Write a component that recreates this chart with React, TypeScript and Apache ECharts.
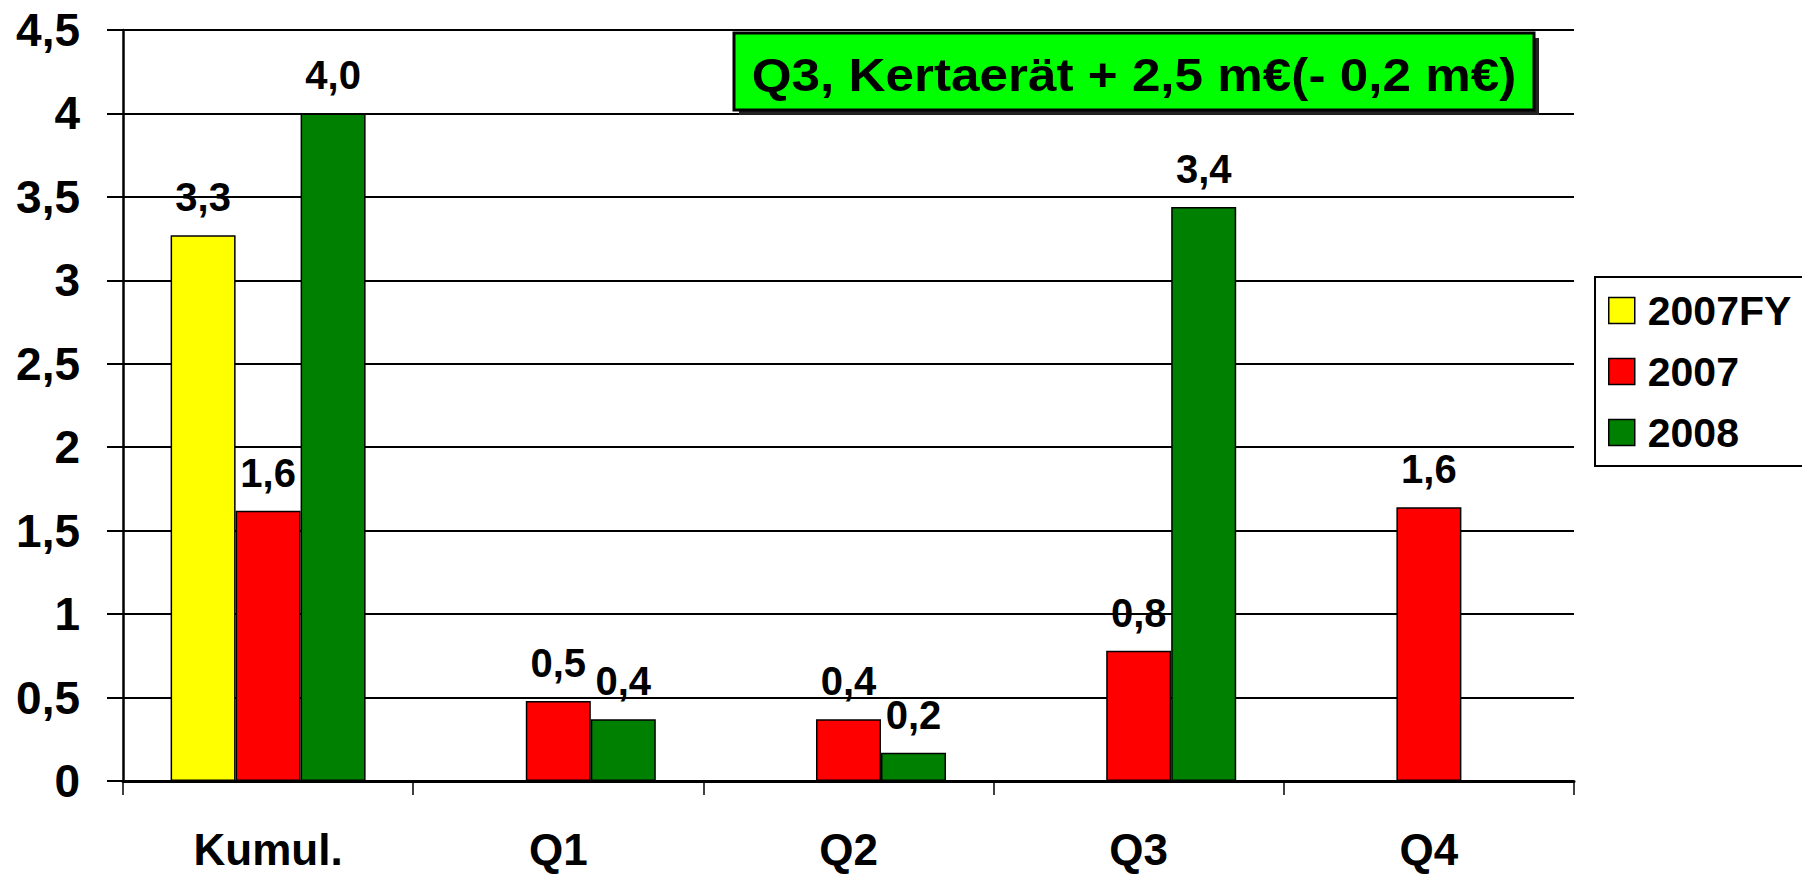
import React, { useEffect, useRef } from "react";
import * as echarts from "echarts";

const categories = ["Kumul.", "Q1", "Q2", "Q3", "Q4"];
const seriesNames = ["2007FY", "2007", "2008"];
const values2007FY: (number | null)[] = [3.27, null, null, null, null];
const values2007: (number | null)[] = [1.62, 0.48, 0.37, 0.78, 1.64];
const values2008: (number | null)[] = [4.0, 0.37, 0.17, 3.44, null];
const seriesColors = ["#FFFF00", "#FF0000", "#008000"];
const titleText = "Q3, Kertaerät + 2,5 m€(- 0,2 m€)";

const FONT = "'Liberation Sans', Arial, sans-serif";

export default function App() {
  const ref = useRef<HTMLDivElement>(null);
  useEffect(() => {
    if (!ref.current) return;
    const chart = echarts.init(ref.current, null, { renderer: "svg" });
    const data = [values2007FY, values2007, values2008];
    const fmt = (p: any) =>
      typeof p.value === "number" ? p.value.toFixed(1).replace(".", ",") : "";
    chart.setOption({
      animation: false,
      backgroundColor: "#ffffff",
      grid: { left: 123, right: 228, top: 30, bottom: 95, containLabel: false },
      legend: {
        orient: "vertical",
        left: 1595,
        top: 277,
        data: seriesNames,
        borderColor: "#000",
        borderWidth: 2,
        padding: [13, 40, 13, 13],
        itemWidth: 26,
        itemHeight: 26,
        itemGap: 20,
        icon: "rect",
        itemStyle: { borderColor: "#000", borderWidth: 1.5 },
        textStyle: {
          fontFamily: FONT,
          fontWeight: "bold",
          fontSize: 41,
          color: "#000",
          lineHeight: 40,
          padding: [0, 0, 0, 8],
        },
      },
      xAxis: {
        type: "category",
        data: categories,
        axisLine: { lineStyle: { color: "#000", width: 3 } },
        axisTick: { show: true, length: 14, lineStyle: { color: "#000", width: 1.5 } },
        axisLabel: {
          fontFamily: FONT,
          fontWeight: "bold",
          fontSize: 44,
          lineHeight: 40,
          color: "#000",
          margin: 48,
        },
      },
      yAxis: {
        type: "value",
        min: 0,
        max: 4.5,
        interval: 0.5,
        axisLine: { show: true, lineStyle: { color: "#000", width: 2.5 } },
        axisTick: { show: true, length: 16, lineStyle: { color: "#000", width: 2 } },
        splitLine: { show: true, lineStyle: { color: "#000", width: 2 } },
        axisLabel: {
          fontFamily: FONT,
          fontWeight: "bold",
          fontSize: 46,
          color: "#000",
          margin: 43,
          formatter: (v: number) => String(v).replace(".", ","),
        },
      },
      series: seriesNames.map((name, i) => ({
        name,
        type: "bar",
        data: data[i],
        barWidth: 65,
        barGap: "0%",
        itemStyle: { color: seriesColors[i], borderColor: "#000", borderWidth: 1.5 },
        label: {
          show: true,
          position: "top",
          distance: 18,
          fontFamily: FONT,
          fontWeight: "bold",
          fontSize: 40,
          color: "#000",
          formatter: fmt,
        },
      })),
      graphic: [
        {
          type: "rect",
          shape: { x: 739, y: 38, width: 800, height: 77 },
          style: { fill: "#222" },
          z: 100,
        },
        {
          type: "rect",
          shape: { x: 734, y: 33, width: 800, height: 77 },
          style: { fill: "#00FF00", stroke: "#000", lineWidth: 3 },
          z: 101,
        },
        {
          type: "text",
          x: 1134,
          y: 74,
          scaleX: 1.09,
          z: 102,
          style: {
            text: titleText,
            fontFamily: FONT,
            fontWeight: "bold",
            fontSize: 47,
            fill: "#000",
            align: "center",
            verticalAlign: "middle",
          },
        },
      ],
    });
    return () => chart.dispose();
  }, []);
  return (
    <div
      ref={ref}
      style={{ position: "fixed", left: 0, top: 0, width: 1802, height: 876 }}
    />
  );
}
